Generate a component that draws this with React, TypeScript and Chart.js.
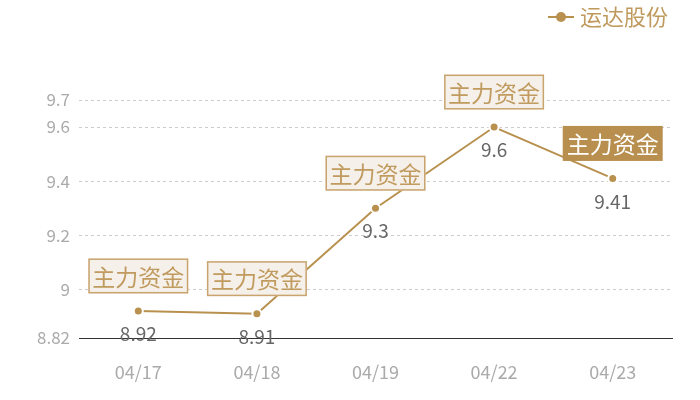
import React, { useEffect, useRef } from "react";
import { Chart, registerables } from "chart.js";

Chart.register(...registerables);

const categories = ["04/17", "04/18", "04/19", "04/22", "04/23"];
const seriesName = "运达股份";
const prices = [8.92, 8.91, 9.3, 9.6, 9.41];
const yTicks = [8.82, 9, 9.2, 9.4, 9.6, 9.7];
const markLabel = "主力资金";
const highlightIndex = 4;

const FONT = '"Noto Sans CJK SC", "Noto Sans", sans-serif';
const GOLD = "#b8914f";

const overlayPlugin = {
  id: "overlay",
  afterDatasetsDraw(chart: any) {
    const ctx = chart.ctx as CanvasRenderingContext2D;
    const meta = chart.getDatasetMeta(0);
    ctx.save();
    meta.data.forEach((pt: any, i: number) => {
      const x = pt.x;
      const y = pt.y;
      // value label
      ctx.font = `19px ${FONT}`;
      ctx.fillStyle = "#666666";
      ctx.textAlign = "center";
      ctx.textBaseline = "middle";
      ctx.fillText(String(prices[i]), x, y + 23);
      // mark box
      const bw = 100;
      const bh = 35;
      const cy = y - 35;
      const bx = x - bw / 2;
      const by = cy - bh / 2;
      if (i === highlightIndex) {
        ctx.fillStyle = "#b88f4e";
        ctx.fillRect(bx, by, bw, bh);
        ctx.fillStyle = "#ffffff";
      } else {
        ctx.fillStyle = "#f5f0e9";
        ctx.fillRect(bx, by, bw, bh);
        ctx.strokeStyle = "#c9a46e";
        ctx.lineWidth = 1.5;
        ctx.strokeRect(bx + 0.75, by + 0.75, bw - 1.5, bh - 1.5);
        ctx.fillStyle = "#c09a5e";
      }
      ctx.font = `23px ${FONT}`;
      ctx.fillText(markLabel, x, cy + 1);
    });
    // legend
    ctx.strokeStyle = GOLD;
    ctx.lineWidth = 2;
    ctx.beginPath();
    ctx.moveTo(548, 17);
    ctx.lineTo(574, 17);
    ctx.stroke();
    ctx.fillStyle = GOLD;
    ctx.beginPath();
    ctx.arc(561, 17, 5, 0, Math.PI * 2);
    ctx.fill();
    ctx.font = `22px ${FONT}`;
    ctx.fillStyle = "#bf9a5c";
    ctx.textAlign = "left";
    ctx.textBaseline = "middle";
    ctx.fillText(seriesName, 580, 17);
    ctx.restore();
  },
};

export default function App() {
  const ref = useRef<HTMLCanvasElement>(null);
  useEffect(() => {
    if (!ref.current) return;
    const chart = new Chart(ref.current, {
      type: "line",
      data: {
        labels: categories,
        datasets: [
          {
            label: seriesName,
            data: prices,
            borderColor: GOLD,
            backgroundColor: GOLD,
            borderWidth: 2,
            pointRadius: 4.5,
            pointBorderColor: "#ffffff",
            pointBorderWidth: 2,
            pointBackgroundColor: GOLD,
            tension: 0,
          },
        ],
      },
      plugins: [overlayPlugin],
      options: {
        responsive: false,
        animation: false,
        layout: { padding: { top: 100, right: 28, left: 0, bottom: 0 } },
        plugins: {
          legend: { display: false },
          tooltip: { enabled: false },
        },
        scales: {
          x: {
            offset: true,
            grid: { display: false, drawTicks: false },
            border: { display: true, color: "#333333", width: 1 },
            ticks: {
              color: "#aaaaaa",
              font: { family: FONT, size: 18 },
              padding: 23,
            },
            afterFit(scale: any) {
              scale.height = 62;
            },
          },
          y: {
            min: 8.82,
            max: 9.7,
            border: { display: false, dash: [3, 3] },
            grid: {
              drawTicks: false,
              color: (c: any) => (c.tick && c.tick.value === 8.82 ? "rgba(0,0,0,0)" : "#cccccc"),
              lineWidth: 1,
            },
            ticks: {
              color: "#aaaaaa",
              font: { family: FONT, size: 17 },
              padding: 9,
              callback: (v: any) => String(v),
            },
            afterBuildTicks(scale: any) {
              scale.ticks = yTicks.map((v) => ({ value: v }));
            },
            afterFit(scale: any) {
              scale.width = 79;
            },
          },
        },
      },
    } as any);
    return () => chart.destroy();
  }, []);
  return (
    <div style={{ position: "fixed", left: 0, top: 0, width: 700, height: 400, background: "#fff" }}>
      <canvas ref={ref} width={700} height={400} style={{ width: 700, height: 400 }} />
    </div>
  );
}
